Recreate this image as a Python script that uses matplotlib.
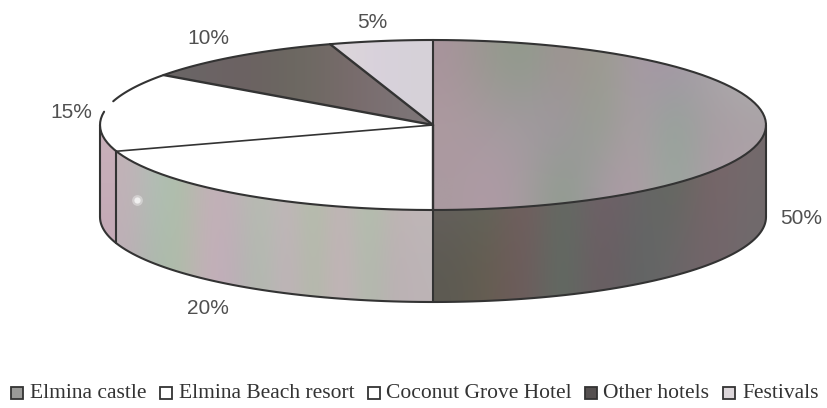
import numpy as np
import matplotlib
matplotlib.use("Agg")
import matplotlib.pyplot as plt
from matplotlib.colors import to_rgb
from matplotlib.patches import Polygon, Rectangle

categories = ["Elmina castle", "Elmina Beach resort", "Coconut Grove Hotel", "Other hotels", "Festivals"]
shares = [50, 20, 15, 10, 5]
share_labels = ["50%", "20%", "15%", "10%", "5%"]
label_xy = [(801, 219), (208, 309), (71, 112), (208, 38), (372, 22)]
legend_box_x = [11, 160, 368, 585, 723]
legend_text_x = [30, 179, 386, 603, 742]

# blotchy scanned look, low-res colour grids that get smoothed by imshow
top_50 = [["#a8949c", "#98988f", "#8f9c8c", "#a09294", "#9a9c8e", "#a69aa4", "#a596a6", "#a8a4a8", "#b0b0b0"],
          ["#ad9aa0", "#a69aa0", "#a29aa0", "#a096a0", "#92a08f", "#ad9ca6", "#8fa597", "#a89ca2", "#a8a0a4"],
          ["#aa9aa0", "#b09aa6", "#a69ca0", "#8c9c8c", "#a49aa2", "#b09ca6", "#96a89c", "#ac9ca6", "#b0a4aa"]]
wall_50 = [["#6a6262", "#5c6a5c", "#7a5c60", "#5f6d62", "#74606a", "#6a6468", "#5f6a5e", "#7a6468", "#736a6c"],
           ["#5c5a52", "#665e50", "#705a5e", "#5c6e62", "#6e5a62", "#5f6664", "#6a6668", "#74646a", "#6e6a6c"]]
wall_20 = [["#c2b2b8", "#b0bfb6", "#aebfa8", "#c4b0b8", "#c0b2b8", "#b4bfb0", "#c4b4bc", "#afc2a6", "#c6b0ba", "#aec4aa", "#c0b4b4", "#c0b8b8"],
           ["#bcaeb6", "#aabaac", "#b0bca8", "#c6aeba", "#bcaeb8", "#aebcac", "#c4b0bc", "#aebca6", "#c8b0bc", "#aebcaa", "#bcb0b4", "#bcb4b6"]]
wall_15 = [["#c8b0ba"], ["#c4aab6"]]
slice_10 = [["#6a6666", "#6d6062", "#6a6a60", "#7a6a6c", "#7d7678"]]
slice_5 = [["#dcd6da", "#d8d0dc", "#d6d2d8"]]

cx, cy, rx, ry, depth = 433, 125, 333, 85, 92
edge = "#333333"

fig = plt.figure(figsize=(8.28, 4.08), dpi=100)
ax = fig.add_axes([0, 0, 1, 1])


def arc(f0, f1, dz=0):
    t = np.linspace(f0, f1, 120) * 2 * np.pi
    return np.column_stack([cx + rx * np.sin(t), cy + dz - ry * np.cos(t)])


def textured(pts, grid, z):
    # fill polygon with the smoothed colour grid
    patch = Polygon(pts, closed=True, fc="none", ec="none", transform=ax.transData)
    ax.add_patch(patch)
    img = np.array([[to_rgb(c) for c in row] for row in grid])
    x0, y0 = pts.min(axis=0)
    x1, y1 = pts.max(axis=0)
    im = ax.imshow(img, extent=(x0, x1, y1, y0), aspect="auto", interpolation="bicubic", zorder=z)
    im.set_clip_path(patch)


def line(pts, lw=1.5):
    ax.plot(pts[:, 0], pts[:, 1], color=edge, lw=lw, zorder=5, solid_capstyle="round")


edges = np.concatenate([[0], np.cumsum(shares)]) / sum(shares)
center = np.array([[cx, cy]])

# side walls
wall_spans = [(0.25, edges[1], wall_50), (edges[1], edges[2], wall_20), (edges[2], 0.75, wall_15)]
for f0, f1, grid in wall_spans:
    textured(np.vstack([arc(f0, f1), arc(f0, f1, depth)[::-1]]), grid, 1)

# top faces
textured(np.vstack([center, arc(edges[0], edges[1])]), top_50, 2)
for f0, f1 in [(edges[1], edges[2]), (edges[2], edges[3])]:
    ax.add_patch(Polygon(np.vstack([center, arc(f0, f1)]), fc="white", ec="none", zorder=2))
textured(np.vstack([center, arc(edges[3], edges[4])]), slice_10, 2)
textured(np.vstack([center, arc(edges[4], edges[5])]), slice_5, 2)

# outlines, the rim has a small break next to the 15% label
line(arc(0.0, 0.775))
line(arc(0.795, 1.0))
line(arc(0.25, 0.75, depth))
for f in [0.25, 0.75, edges[1], edges[2]]:
    line(np.array([arc(f, f)[0], arc(f, f, depth)[0]]))
line(np.vstack([center, arc(0, 0)[:1]]))
for f in edges[1:5]:
    line(np.vstack([center, arc(f, f)[:1]]), lw=1.2 if f == edges[2] else 1.7)

# bright speck on the 20% wall
ax.scatter([137], [200], s=60, color="white", alpha=0.35, linewidths=0, zorder=3)
ax.scatter([137], [200], s=20, color="white", alpha=0.7, linewidths=0, zorder=3)

for s, (x, y) in zip(share_labels, label_xy):
    ax.text(x, y, s, ha="center", va="center", fontsize=15, family="Liberation Sans", color="#505050")

legend_fill = ["#9a9a98", "white", "white", "#555050", "#dcd6da"]
for name, bx, tx, fc in zip(categories, legend_box_x, legend_text_x, legend_fill):
    ax.add_patch(Rectangle((bx, 387), 12, 12, fc=fc, ec="#333333", lw=1.3, zorder=3))
    ax.text(tx, 393, name, ha="left", va="center", fontsize=15.5, family="Liberation Serif", color="#333333")

ax.set_xlim(0, 828)
ax.set_ylim(408, 0)
ax.axis("off")
fig.savefig("out.png", dpi=100)
